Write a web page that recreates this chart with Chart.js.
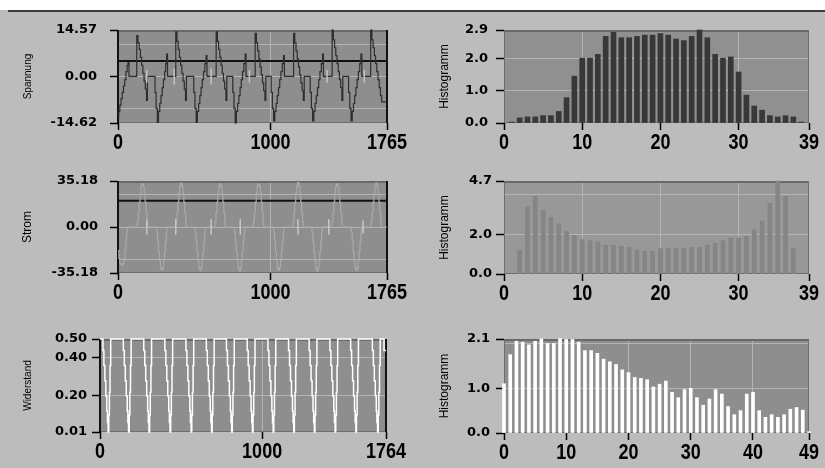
<!DOCTYPE html>
<html>
<head>
<meta charset="utf-8">
<script src="https://cdn.jsdelivr.net/npm/chart.js@4/dist/chart.umd.min.js"></script>
<style>
  body { margin: 0; width: 825px; height: 468px; background: #bcbcbc; position: relative; overflow: hidden; }
  canvas { position: absolute; left: 0; top: 0; }
  .topband { position: absolute; left: 0; top: 0; width: 825px; height: 10px; background: #fff; }
  .topline { position: absolute; left: 8px; top: 10px; width: 817px; height: 2px; background: #3c3c3c; }
</style>
</head>
<body>
<div class="topband"></div>
<div class="topline"></div>
<canvas id="c1" width="825" height="468"></canvas>
<canvas id="c2" width="825" height="468"></canvas>
<canvas id="c3" width="825" height="468"></canvas>
<canvas id="c4" width="825" height="468"></canvas>
<canvas id="c5" width="825" height="468"></canvas>
<canvas id="c6" width="825" height="468"></canvas>
<script>
// ---- data ----

// Spannung waveform [sample, value], step changes
const spannung = [
  [0,-13],[5,-11],[12,-9],[20,-7],[28,-5],[36,-3],[44,-1],[52,1.5],[60,3.5],[66,4.5],[72,0],
  [123,12.8],[131,10.5],[139,8.5],[147,6],[155,3.5],[163,1],[171,-1.5],[179,-4],[187,-7.5],[193,0],
  [243,-5],[250,-10],[258,-14.4],[266,-11],[274,-8.5],[282,-6],[290,-3.5],[298,-1],[306,1.5],[313,4],[319,7],[325,0],
  [379,14],[387,11],[395,8.5],[403,6],[411,3.5],[419,1],[427,-1.5],[435,-4],[443,-7.5],[449,0],
  [497,-5],[505,-10],[513,-14.4],[521,-11],[529,-8.5],[537,-6],[545,-3.5],[553,-1],[561,1.5],[570,4],[578,6.5],[584,0],
  [644,14],[652,11],[660,8.5],[668,6],[676,3.5],[684,1],[692,-1.5],[700,-4],[708,-7.5],[714,0],
  [753,-5],[761,-10],[769,-14.6],[777,-11],[785,-8.5],[793,-6],[801,-3.5],[809,-1],[817,1.5],[826,4],[834,7],[840,0],
  [900,13.5],[908,10.5],[916,8],[924,5.5],[932,3],[940,0.5],[948,-2],[956,-4.5],[964,-7.5],[970,0],
  [1005,-5],[1013,-10],[1021,-14],[1029,-11],[1037,-8.5],[1045,-6],[1053,-3.5],[1061,-1],[1069,1.5],[1078,4],[1086,6.5],[1092,0],
  [1152,13.5],[1160,10.5],[1168,8],[1176,5.5],[1184,3],[1192,0.5],[1200,-2],[1208,-4.5],[1216,-7.5],[1222,0],
  [1261,-5],[1269,-10],[1277,-14],[1285,-11],[1293,-8.5],[1301,-6],[1309,-3.5],[1317,-1],[1325,1.5],[1334,4],[1342,7],[1348,0],
  [1405,14.5],[1413,11.5],[1421,9],[1429,6.5],[1437,4],[1445,1.5],[1453,-1],[1461,-3.5],[1469,-7.5],[1475,0],
  [1513,-5],[1521,-10],[1529,-14],[1537,-11],[1545,-8.5],[1553,-6],[1561,-3.5],[1569,-1],[1577,1.5],[1586,4],[1594,7],[1600,0],
  [1658,14.5],[1666,11.5],[1674,9],[1682,6.5],[1690,4],[1698,1.5],[1706,-1],[1714,-3.5],[1722,-6],[1730,-8],[1765,-8]
];
const spannungCursor = 4.84;
// short light marks around zero (sample, half height)
const spannungMarks = [[189, 2], [369, 2.5], [611, 2.5], [862, 2], [1372, 2], [1616, 2]];

// Strom waveform
const strom = [
  [0,-18],[6,-24],[12,-28],[22,-29],[34,-28],[40,-24],[46,-17],[52,-9],[58,-3],[62,0],
  [127,4],[133,11],[139,19],[145,26],[151,31],[157,33],[166,31],[172,26],[178,19],[184,11],[190,4],[194,0],
  [254,-4],[260,-11],[266,-19],[272,-26],[278,-31],[284,-33],[293,-31],[299,-26],[305,-19],[311,-11],[317,-4],[321,0],
  [381,4],[387,11],[393,19],[399,26],[405,31],[411,33.5],[420,31],[426,26],[432,19],[438,11],[444,4],[448,0],
  [506,-4],[512,-11],[518,-19],[524,-26],[530,-31],[536,-33],[545,-31],[551,-26],[557,-19],[563,-11],[569,-4],[573,0],
  [637,4],[643,11],[649,19],[655,26],[661,31],[667,33],[676,31],[682,26],[688,19],[694,11],[700,4],[704,0],
  [764,-4],[770,-11],[776,-19],[782,-26],[788,-31],[794,-33.5],[803,-31],[809,-26],[815,-19],[821,-11],[827,-4],[831,0],
  [889,4],[895,11],[901,19],[907,26],[913,31],[919,33],[928,31],[934,26],[940,19],[946,11],[952,4],[956,0],
  [1021,-4],[1027,-11],[1033,-19],[1039,-26],[1045,-31],[1051,-33],[1060,-31],[1066,-26],[1072,-19],[1078,-11],[1084,-4],[1088,0],
  [1148,4],[1154,11],[1160,19],[1166,26],[1172,31],[1178,34],[1187,31],[1193,26],[1199,19],[1205,11],[1211,4],[1215,0],
  [1273,-4],[1279,-11],[1285,-19],[1291,-26],[1297,-31],[1303,-33.5],[1312,-31],[1318,-26],[1324,-19],[1330,-11],[1336,-4],[1340,0],
  [1404,4],[1410,11],[1416,19],[1422,26],[1428,31],[1434,33],[1443,31],[1449,26],[1455,19],[1461,11],[1467,4],[1471,0],
  [1531,-4],[1537,-11],[1543,-19],[1549,-26],[1555,-31],[1561,-33],[1570,-31],[1576,-26],[1582,-19],[1588,-11],[1594,-4],[1598,0],
  [1661,4],[1667,11],[1673,19],[1679,26],[1685,31],[1691,33.5],[1700,31],[1706,26],[1712,19],[1718,11],[1724,4],[1728,0],[1765,0]
];
const stromCursor = 20;
const stromMarks = [[189, 6], [379, 6], [611, 6], [802, 6], [1181, 6], [1383, 6], [1608, 5]];

// Widerstand waveform
const widerstand = [
  [0,0.5],
  [18,0.44],[24,0.36],[30,0.28],[36,0.2],[42,0.12],[46,0.06],[50,0.01],[54,0.1],[58,0.22],[62,0.36],[66,0.5],
  [144,0.44],[150,0.36],[156,0.28],[162,0.2],[168,0.12],[172,0.06],[176,0.01],[180,0.1],[184,0.22],[188,0.36],[192,0.5],
  [270,0.44],[276,0.36],[282,0.28],[288,0.2],[294,0.12],[298,0.06],[302,0.01],[306,0.1],[310,0.22],[314,0.36],[318,0.5],
  [400,0.44],[406,0.36],[412,0.28],[418,0.2],[424,0.12],[428,0.06],[432,0.01],[436,0.1],[440,0.22],[444,0.36],[448,0.5],
  [530,0.44],[536,0.36],[542,0.28],[548,0.2],[554,0.12],[558,0.06],[562,0.01],[566,0.1],[570,0.22],[574,0.36],[578,0.5],
  [656,0.44],[662,0.36],[668,0.28],[674,0.2],[680,0.12],[684,0.06],[688,0.01],[692,0.1],[696,0.22],[700,0.36],[704,0.5],
  [780,0.44],[786,0.36],[792,0.28],[798,0.2],[804,0.12],[808,0.06],[812,0.01],[816,0.1],[820,0.22],[824,0.36],[828,0.5],
  [908,0.44],[914,0.36],[920,0.28],[926,0.2],[932,0.12],[936,0.06],[940,0.01],[944,0.1],[948,0.22],[952,0.36],[956,0.5],
  [1036,0.44],[1042,0.36],[1048,0.28],[1054,0.2],[1060,0.12],[1064,0.06],[1068,0.01],[1072,0.1],[1076,0.22],[1080,0.36],[1084,0.5],
  [1163,0.44],[1169,0.36],[1175,0.28],[1181,0.2],[1187,0.12],[1191,0.06],[1195,0.01],[1199,0.1],[1203,0.22],[1207,0.36],[1211,0.5],
  [1290,0.44],[1296,0.36],[1302,0.28],[1308,0.2],[1314,0.12],[1318,0.06],[1322,0.01],[1326,0.1],[1330,0.22],[1334,0.36],[1338,0.5],
  [1418,0.44],[1424,0.36],[1430,0.28],[1436,0.2],[1442,0.12],[1446,0.06],[1450,0.01],[1454,0.1],[1458,0.22],[1462,0.36],[1466,0.5],
  [1546,0.44],[1552,0.36],[1558,0.28],[1564,0.2],[1570,0.12],[1574,0.06],[1578,0.01],[1582,0.1],[1586,0.22],[1590,0.36],[1594,0.5],
  [1680,0.44],[1686,0.36],[1692,0.28],[1698,0.2],[1704,0.12],[1708,0.06],[1712,0.01],[1716,0.1],[1720,0.22],[1724,0.36],[1728,0.5],
  [1752,0.44],[1764,0.44]
];

// histograms
const hist1Bins = [1,2,3,4,5,6,7,8,9,10,11,12,13,14,15,16,17,18,19,20,21,22,23,24,25,26,27,28,29,30,31,32,33,34,35,36,37,38];
const hist1Vals = [0.03,0.16,0.19,0.19,0.23,0.23,0.36,0.79,1.46,2.02,2.02,2.14,2.70,2.83,2.66,2.66,2.70,2.74,2.74,2.79,
                   2.74,2.62,2.57,2.70,2.90,2.66,2.14,2.02,2.06,1.59,0.87,0.53,0.40,0.23,0.19,0.23,0.19,0.03];
const hist2Bins = [2,3,4,5,6,7,8,9,10,11,12,13,14,15,16,17,18,19,20,21,22,23,24,25,26,27,28,29,30,31,32,33,34,35,36,37];
const hist2Vals = [1.21,3.40,3.91,3.23,2.86,2.53,2.17,1.95,1.75,1.68,1.62,1.46,1.46,1.40,1.35,1.21,1.14,1.14,1.28,1.28,
                   1.28,1.28,1.35,1.35,1.46,1.55,1.68,1.82,1.82,1.89,2.24,2.68,3.57,4.70,3.91,1.28];
const hist3Bins = [0,1,2,3,4,5,6,7,8,9,10,11,12,13,14,15,16,17,18,19,20,21,22,23,24,25,26,27,28,29,
                   30,31,32,33,34,35,36,37,38,39,40,41,42,43,44,45,46,47,48,49];
const hist3Vals = [1.10,1.75,2.05,2.03,1.97,2.05,2.10,2.00,2.00,2.11,2.09,2.09,2.03,1.84,1.84,1.78,1.65,1.59,1.53,1.41,
                   1.35,1.24,1.22,1.19,1.03,1.09,1.16,0.91,0.79,0.97,1.00,0.79,0.62,0.76,0.97,0.87,0.59,0.41,0.50,0.87,
                   0.91,0.50,0.35,0.41,0.35,0.41,0.53,0.57,0.51,0.03];

// axis labels
const waveXLabels = [[0,'0'],[1000,'1000'],[1765,'1765']];
const widerXLabels = [[0,'0'],[1000,'1000'],[1764,'1764']];
const hist39XLabels = [[0,'0'],[10,'10'],[20,'20'],[30,'30'],[39,'39']];
const hist49XLabels = [[0,'0'],[10,'10'],[20,'20'],[30,'30'],[40,'40'],[49,'49']];

// ---- drawing ----
const W = 825, H = 468;
const GRID = '#b4b4b4';
const NONE = 'rgba(0,0,0,0)';

// plot background and frame
Chart.register({
  id: 'plotFrame',
  beforeDraw(chart, args, opts) {
    const a = chart.chartArea, ctx = chart.ctx;
    ctx.save();
    ctx.fillStyle = opts.bg;
    ctx.fillRect(a.left, a.top, a.right - a.left, a.bottom - a.top);
    ctx.restore();
  },
  beforeDatasetsDraw(chart) {
    const a = chart.chartArea, ctx = chart.ctx;
    ctx.save();
    ctx.strokeStyle = '#6e6e6e';
    ctx.lineWidth = 1;
    ctx.strokeRect(a.left + 0.5, a.top + 0.5, a.right - a.left - 1, a.bottom - a.top - 1);
    ctx.fillStyle = '#6a6a6a';
    ctx.fillRect(a.left, a.top, a.right - a.left, 2);
    ctx.restore();
  }
});

// the x tick labels of the original are tall and narrow: stretch them vertically
function stretchLabels(s, k) {
  if (s._stretched) return;
  s._stretched = true;
  const orig = s.drawLabels;
  s.drawLabels = function (area) {
    const ctx = this.ctx, y0 = this.top;
    ctx.save();
    ctx.translate(0, y0);
    ctx.scale(1, k);
    ctx.translate(0, -y0);
    orig.call(this, area);
    ctx.restore();
  };
}

const pts = arr => arr.map(p => ({x: p[0], y: p[1]}));
const bars = (bins, vals) => bins.map((b, i) => ({x: b, y: vals[i]}));
const marks = arr => arr.flatMap(m => [{x: m[0], y: -m[1]}, {x: m[0], y: m[1]}, {x: m[0], y: null}]);

function panel(id, p) {
  const [pl, pt, pr, pb] = p.plot;
  const lh = p.titleSize * 1.2;
  const padLeft = p.titleX - lh / 2;
  const xText = new Map(p.xLabels);
  const yText = new Map(p.yLabels);
  const xVals = [...new Set([...xText.keys(), ...p.xGrid])].sort((a, b) => a - b);
  const yVals = [...new Set([...yText.keys(), ...p.yGrid])].sort((a, b) => a - b);

  new Chart(document.getElementById(id), {
    type: p.type,
    data: { datasets: p.datasets },
    options: {
      responsive: false,
      animation: false,
      events: [],
      layout: { padding: { left: padLeft, top: pt, right: W - pr, bottom: H - pb - 30 } },
      plugins: { legend: { display: false }, tooltip: { enabled: false }, plotFrame: { bg: p.bg } },
      scales: {
        x: {
          type: 'linear', min: 0, max: p.xMax, offset: false,
          afterBuildTicks: s => { s.ticks = xVals.map(v => ({ value: v })); },
          afterFit: s => { s.height = 30; s.paddingLeft = 0; s.paddingRight = 0; },
          afterUpdate: s => stretchLabels(s, 1.18),
          ticks: {
            autoSkip: false, maxRotation: 0, padding: -1, color: '#000',
            font: { family: 'Liberation Sans', weight: 'bold', size: 18 },
            callback: v => xText.has(v) ? xText.get(v) : ''
          },
          grid: {
            offset: false, lineWidth: 1, tickLength: 7, tickWidth: 1.5,
            color: c => p.xGrid.includes(c.tick.value) ? GRID : NONE,
            tickColor: c => xText.has(c.tick.value) ? '#000' : NONE
          },
          border: { display: false }
        },
        y: {
          type: 'linear', min: p.yMin, max: p.yMax,
          afterBuildTicks: s => { s.ticks = yVals.map(v => ({ value: v })); },
          afterFit: s => { s.width = pl - padLeft; s.paddingTop = 0; s.paddingBottom = 0; },
          ticks: {
            autoSkip: false, padding: p.yPad, color: '#000',
            font: { family: 'DejaVu Sans', weight: 'bold', size: 13 },
            callback: v => yText.has(v) ? yText.get(v) : ''
          },
          grid: {
            lineWidth: 1, tickLength: 8, tickWidth: 1.5,
            color: c => p.yGrid.includes(c.tick.value) ? GRID : NONE,
            tickColor: c => yText.has(c.tick.value) ? '#000' : NONE
          },
          border: { display: false },
          title: {
            display: true, text: p.title, color: '#000', padding: 0,
            font: { family: 'Liberation Sans', size: p.titleSize }
          }
        }
      }
    }
  });
}

function waveSet(data, color, width) {
  return { data: pts(data), borderColor: color, borderWidth: width, pointRadius: 0, stepped: true, clip: 2 };
}
function markSet(data, color) {
  return { data: marks(data), borderColor: color, borderWidth: 1.5, pointRadius: 0, spanGaps: false };
}
function lineSet(a, b, color, width) {
  return { data: [{x: a[0], y: a[1]}, {x: b[0], y: b[1]}], borderColor: color, borderWidth: width, pointRadius: 0, clip: false };
}
function barSet(bins, vals, color, thick) {
  return { data: bars(bins, vals), backgroundColor: color, borderWidth: 0, barThickness: thick, clip: 3 };
}

panel('c1', {
  type: 'line', plot: [118, 30, 387, 123], bg: '#8e8e8e',
  title: 'Spannung', titleSize: 10, titleX: 28,
  yMin: -14.62, yMax: 14.57, yPad: 13,
  yLabels: [[14.57, '14.57'], [0, '0.00'], [-14.62, '-14.62']], yGrid: [-10, 0, 10],
  xMax: 1765, xLabels: waveXLabels, xGrid: [1000],
  datasets: [
    markSet(spannungMarks, '#c4c4c4'),
    waveSet(spannung, '#2e2e2e', 1.2),
    lineSet([0, spannungCursor], [1765, spannungCursor], '#111', 2),
    lineSet([0, -14.62], [0, 14.57], '#111', 2),
    lineSet([1765, -14.62], [1765, 14.57], '#111', 2)
  ]
});

panel('c2', {
  type: 'bar', plot: [504, 30, 809, 123], bg: '#909090',
  title: 'Histogramm', titleSize: 12, titleX: 445,
  yMin: 0, yMax: 2.9, yPad: 8,
  yLabels: [[0, '0.0'], [1, '1.0'], [2, '2.0'], [2.9, '2.9']], yGrid: [1, 2],
  xMax: 39, xLabels: hist39XLabels, xGrid: [10, 20, 30],
  datasets: [barSet(hist1Bins, hist1Vals, '#383838', 5)]
});

panel('c3', {
  type: 'line', plot: [118, 181, 387, 273], bg: '#8e8e8e',
  title: 'Strom', titleSize: 12, titleX: 28,
  yMin: -35.18, yMax: 35.18, yPad: 12,
  yLabels: [[35.18, '35.18'], [0, '0.00'], [-35.18, '-35.18']], yGrid: [-25, 0, 25],
  xMax: 1765, xLabels: waveXLabels, xGrid: [1000],
  datasets: [
    markSet(stromMarks, '#c8c8c8'),
    waveSet(strom, '#a9a9a9', 1.2),
    lineSet([0, stromCursor], [1765, stromCursor], '#111', 2),
    lineSet([0, -35.18], [0, 35.18], '#111', 2),
    lineSet([1765, -35.18], [1765, 35.18], '#111', 2)
  ]
});

panel('c4', {
  type: 'bar', plot: [504, 181, 809, 274], bg: '#989898',
  title: 'Histogramm', titleSize: 12, titleX: 445,
  yMin: 0, yMax: 4.7, yPad: 4,
  yLabels: [[0, '0.0'], [2, '2.0'], [4.7, '4.7']], yGrid: [2, 4],
  xMax: 39, xLabels: hist39XLabels, xGrid: [10, 20, 30],
  datasets: [barSet(hist2Bins, hist2Vals, '#858585', 4)]
});

panel('c5', {
  type: 'line', plot: [100, 339, 386, 432], bg: '#8e8e8e',
  title: 'Widerstand', titleSize: 10, titleX: 28,
  yMin: 0.01, yMax: 0.5, yPad: 5,
  yLabels: [[0.5, '0.50'], [0.4, '0.40'], [0.2, '0.20'], [0.01, '0.01']], yGrid: [0.2, 0.4],
  xMax: 1764, xLabels: widerXLabels, xGrid: [1000],
  datasets: [
    waveSet(widerstand, '#ffffff', 1.5),
    lineSet([0, 0.01], [0, 0.5], '#111', 2),
    lineSet([1764, 0.01], [1764, 0.5], '#111', 2)
  ]
});

panel('c6', {
  type: 'bar', plot: [504, 339, 809, 433], bg: '#8e8e8e',
  title: 'Histogramm', titleSize: 12, titleX: 445,
  yMin: 0, yMax: 2.1, yPad: 6,
  yLabels: [[0, '0.0'], [1, '1.0'], [2.1, '2.1']], yGrid: [1, 2],
  xMax: 49, xLabels: hist49XLabels, xGrid: [10, 20, 30, 40],
  datasets: [barSet(hist3Bins, hist3Vals, '#ffffff', 3)]
});
</script>
</body>
</html>
